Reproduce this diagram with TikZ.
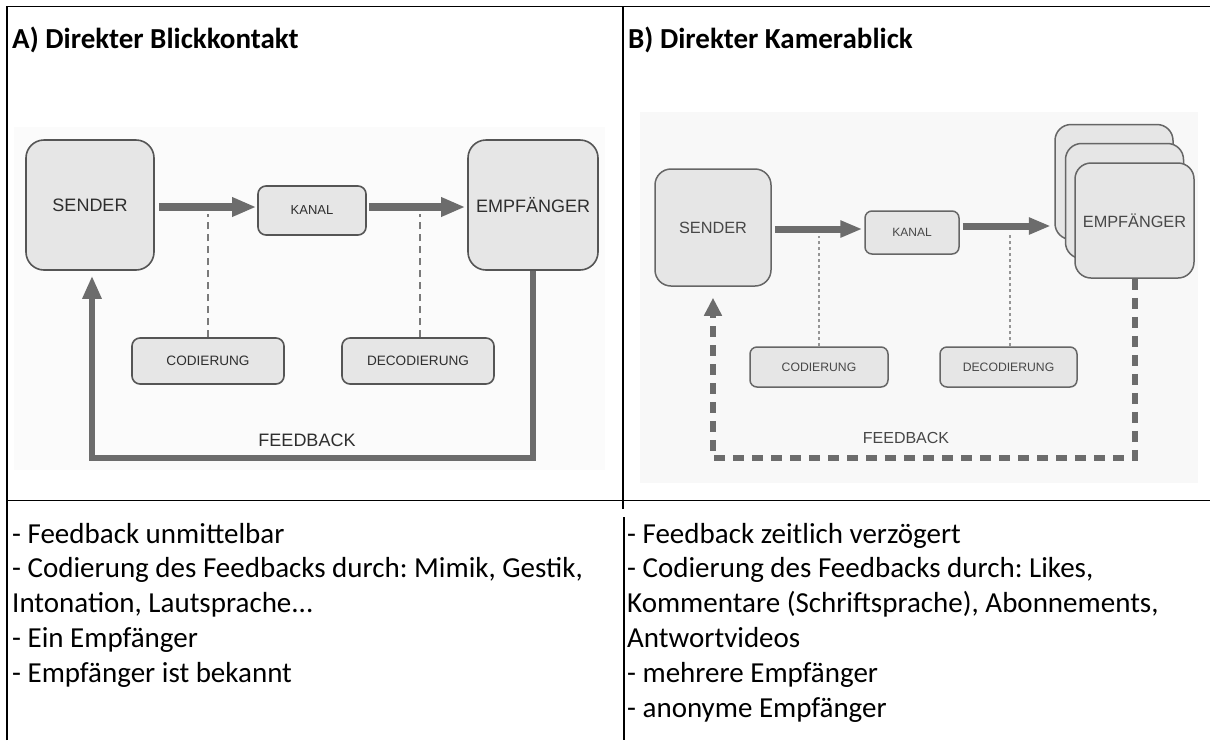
\documentclass[tikz,border=0pt]{standalone}
\usepackage{fontspec}
\setmainfont{Carlito}
\newfontfamily\diagfont{Liberation Sans}
\usetikzlibrary{arrows.meta,calc}
\frenchspacing
\definecolor{boxfill}{HTML}{E6E6E6}
\definecolor{boxline}{HTML}{555555}
\definecolor{arrowgray}{HTML}{6C6C6C}
\definecolor{dtext}{HTML}{2E2E2E}
\definecolor{dtextB}{HTML}{474747}
\definecolor{bgdiagA}{HTML}{FBFBFB}
\definecolor{bgdiagB}{HTML}{F8F8F8}
\definecolor{dashgray}{HTML}{7A7A7A}
\tikzset{
  tab/.style={line width=1.5pt, draw=black},
  title/.style={font=\bfseries\fontsize{29}{34}\selectfont, inner sep=0pt, anchor=base west},
  body/.style={font=\fontsize{29}{34.8}\selectfont, inner sep=0pt, anchor=base west},
  boxA/.style={draw=boxline, fill=boxfill, line width=1.6pt, rounded corners=#1, inner sep=0pt, text=dtext},
  boxA/.default=8pt,
  boxB/.style={draw=boxline!90!white, fill=boxfill, line width=1.5pt, rounded corners=#1, inner sep=0pt, text=dtextB},
  boxB/.default=7pt,
  shaftA/.style={draw=arrowgray, line width=8.5pt, -{Triangle[length=24pt,width=18pt]}},
  shaftB/.style={draw=arrowgray, line width=7pt, -{Triangle[length=22pt,width=16pt]}},
  fbA/.style={draw=arrowgray, line width=6pt, line join=miter, -{Triangle[length=23pt,width=18pt]}},
  fbB/.style={draw=arrowgray, line width=6pt, line join=miter, dash pattern=on 11pt off 8pt, -{Triangle[length=18pt,width=17pt]}},
  dashA/.style={draw=dashgray, line width=2pt, dash pattern=on 7pt off 5pt},
  dotB/.style={draw=dashgray!80!white, line width=1.6pt, dash pattern=on 3pt off 3pt},
  lblA/.style={inner sep=0pt, text=dtext},
  lblB/.style={inner sep=0pt, text=dtextB}
}
\begin{document}
\begin{tikzpicture}[x=1pt,y=-1pt]
\useasboundingbox (0,0) rectangle (1210,740);
\fill[white] (0,0) rectangle (1210,740);
% diagram backgrounds
\fill[bgdiagA] (14,127) rectangle (605,470);
\fill[bgdiagB] (640,112) rectangle (1198,483);
% table lines
\draw[tab] (7,740) -- (7,6.5) -- (1210,6.5);
\draw[tab] (7,500.5) -- (1210,500.5);
\draw[tab] (623,6.5) -- (623,509);
\draw[tab] (624,517) -- (624,740);
% titles
\node[title] (tA) at (12,48) {A) Direkter Blickkontakt};
\node[title] (tB) at (628,48) {B) Direkter Kamerablick};

% ---------- Diagram A ----------
\node[boxA=18pt, minimum width=128pt, minimum height=130pt, font=\diagfont\fontsize{18}{20}\selectfont] (sA) at (90,205) {SENDER};
\node[boxA, minimum width=108pt, minimum height=49pt, font=\diagfont\fontsize{13}{15}\selectfont] (kA) at (312,210.5) {KANAL};
\node[boxA=18pt, minimum width=130pt, minimum height=130pt, font=\diagfont\fontsize{18}{20}\selectfont] (eA) at (533,205) {EMPFÄNGER};
\node[boxA, minimum width=152pt, minimum height=46pt, font=\diagfont\fontsize{13.6}{15}\selectfont] (cA) at (208,361) {CODIERUNG};
\node[boxA, minimum width=152pt, minimum height=46pt, font=\diagfont\fontsize{13.6}{15}\selectfont] (dA) at (418,361) {DECODIERUNG};
\node[lblA, font=\diagfont\fontsize{18}{20}\selectfont] (fA) at (307,440) {FEEDBACK};
\draw[shaftA] ($(sA.east)+(4,2)$) -- ($(kA.west |- sA.east)+(-1,2)$);
\draw[shaftA] ($(kA.east)+(2,-3.5)$) -- ($(eA.west)+(-2,2)$);
\draw[dashA] (cA.north) -- ($(cA.north |- kA.center)+(0,3)$);
\draw[dashA] ($(dA.north)+(2,0)$) -- ($(dA.north |- kA.center)+(2,3)$);
\coordinate (fa1) at (533,458);
\coordinate (fa2) at (92,458);
\draw[fbA, shorten >=5pt] (eA.south) -- (fa1) -- (fa2) -- (fa2 |- sA.south);

% ---------- Diagram B ----------
\node[boxB=16pt, minimum width=116pt, minimum height=117pt, font=\diagfont\fontsize{16.3}{18}\selectfont] (sB) at (713,227.5) {SENDER};
\node[boxB, minimum width=94pt, minimum height=43pt, font=\diagfont\fontsize{12}{14}\selectfont] (kB) at (912,232.5) {KANAL};
\node[boxB=16pt, minimum width=118pt, minimum height=115pt] (eB3) at (1114,182) {};
\node[boxB=16pt, minimum width=118pt, minimum height=115pt] (eB2) at (1124.5,201) {};
\node[boxB=16pt, minimum width=119pt, minimum height=115pt, font=\diagfont\fontsize{16.3}{18}\selectfont] (eB1) at (1134.5,220.5) {EMPFÄNGER};
\node[boxB, minimum width=138pt, minimum height=40pt, font=\diagfont\fontsize{12.2}{14}\selectfont] (cB) at (819,367) {CODIERUNG};
\node[boxB, minimum width=137pt, minimum height=40pt, font=\diagfont\fontsize{12.2}{14}\selectfont] (dB) at (1008.5,367) {DECODIERUNG};
\node[lblB, font=\diagfont\fontsize{16}{18}\selectfont] (fB) at (906,438) {FEEDBACK};
\draw[shaftB] ($(sB.east)+(3,1.5)$) -- ($(kB.west |- sB.east)+(-2,1.5)$);
\draw[shaftB] ($(kB.east)+(3,-6.5)$) -- ($(eB3.west |- kB.east)+(-3.5,-6.5)$);
\draw[dotB] (cB.north) -- ($(cB.north |- kB.south)+(0,-19)$);
\draw[dotB] ($(dB.north)+(1.5,0)$) -- ($(dB.north |- kB.south)+(1.5,-20)$);
\coordinate (fb1) at (1134.5,458);
\coordinate (fb2) at (713,458);
\draw[fbB, shorten >=11pt] (eB1.south) -- (fb1) -- (fb2) -- (fb2 |- sB.south);

% ---------- bottom texts ----------
\node[body] (a1) at (12,543) {- Feedback unmittelbar};
\node[body] (a2) at (12,577.8) {- Codierung des Feedbacks durch: Mimik, Gestik,};
\node[body] (a3) at (12,612.6) {Intonation, Lautsprache...};
\node[body] (a4) at (12,647.4) {- Ein Empfänger};
\node[body] (a5) at (12,682.2) {- Empfänger ist bekannt};
\node[body] (b1) at (627,543) {- Feedback zeitlich verzögert};
\node[body] (b2) at (627,577.8) {- Codierung des Feedbacks durch: Likes,};
\node[body] (b3) at (627,612.6) {Kommentare (Schriftsprache), Abonnements,};
\node[body] (b4) at (627,647.4) {Antwortvideos};
\node[body] (b5) at (627,682.2) {- mehrere Empfänger};
\node[body] (b6) at (627,717) {- anonyme Empfänger};
\end{tikzpicture}
\end{document}
